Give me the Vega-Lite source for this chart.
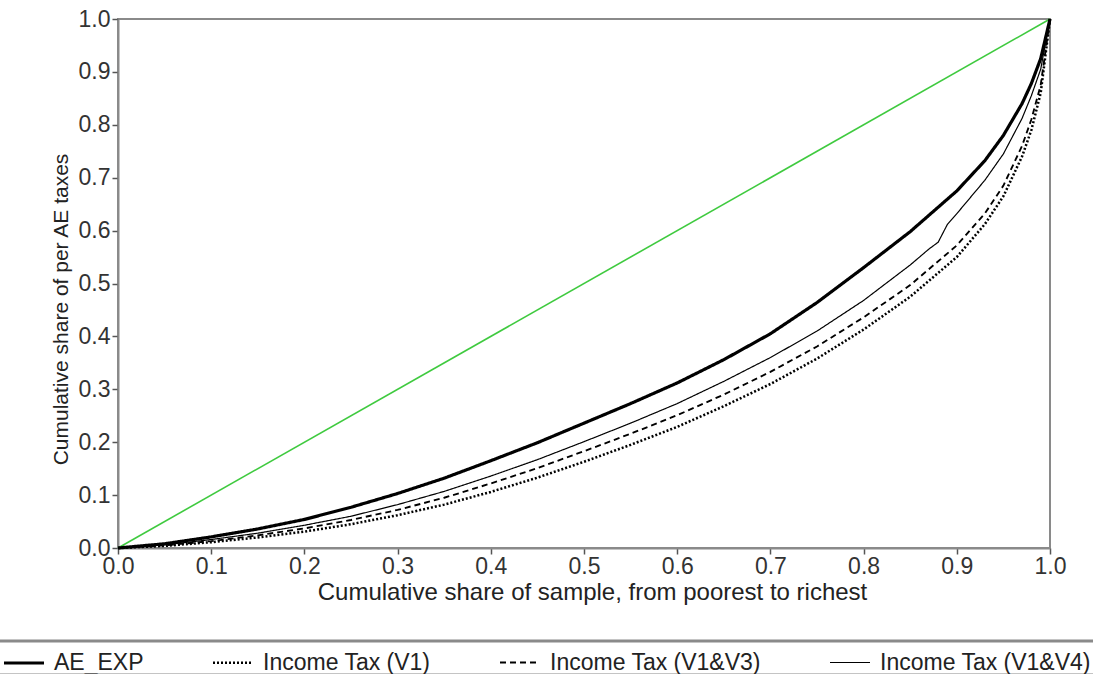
{
  "$schema": "https://vega.github.io/schema/vega-lite/v6.json",
  "autosize": {"type": "none"},
  "padding": {"left": 118, "top": 19, "right": 43, "bottom": 126},
  "width": 932,
  "height": 529,
  "background": "white",
  "config": {
    "view": {"stroke": "#8a8a8a", "strokeWidth": 2},
    "font": "Liberation Sans",
    "legend": {"strokeWidth": 3},
    "axis": {
      "grid": false,
      "domainColor": "#8a8a8a",
      "domainWidth": 2,
      "tickColor": "#555555",
      "tickWidth": 1.5,
      "tickSize": 6,
      "labelFont": "Liberation Sans",
      "labelFontSize": 23,
      "labelColor": "#333333",
      "titleFont": "Liberation Sans",
      "titleFontWeight": "normal",
      "titleColor": "#222222"
    }
  },
  "datasets": {
    "eq": [{"x": 0, "y": 0}, {"x": 1, "y": 1}],
    "curves": [
      {"series": "AE_EXP", "x": 0, "y": 0},
      {"series": "AE_EXP", "x": 0.05, "y": 0.008},
      {"series": "AE_EXP", "x": 0.1, "y": 0.021},
      {"series": "AE_EXP", "x": 0.15, "y": 0.036},
      {"series": "AE_EXP", "x": 0.2, "y": 0.054},
      {"series": "AE_EXP", "x": 0.25, "y": 0.077},
      {"series": "AE_EXP", "x": 0.3, "y": 0.103},
      {"series": "AE_EXP", "x": 0.35, "y": 0.132},
      {"series": "AE_EXP", "x": 0.4, "y": 0.165},
      {"series": "AE_EXP", "x": 0.45, "y": 0.199},
      {"series": "AE_EXP", "x": 0.5, "y": 0.236},
      {"series": "AE_EXP", "x": 0.55, "y": 0.273},
      {"series": "AE_EXP", "x": 0.6, "y": 0.312},
      {"series": "AE_EXP", "x": 0.65, "y": 0.356},
      {"series": "AE_EXP", "x": 0.7, "y": 0.405},
      {"series": "AE_EXP", "x": 0.75, "y": 0.464},
      {"series": "AE_EXP", "x": 0.8, "y": 0.53},
      {"series": "AE_EXP", "x": 0.85, "y": 0.598},
      {"series": "AE_EXP", "x": 0.9, "y": 0.675},
      {"series": "AE_EXP", "x": 0.93, "y": 0.732},
      {"series": "AE_EXP", "x": 0.95, "y": 0.78},
      {"series": "AE_EXP", "x": 0.97, "y": 0.84},
      {"series": "AE_EXP", "x": 0.98, "y": 0.878},
      {"series": "AE_EXP", "x": 0.99, "y": 0.925},
      {"series": "AE_EXP", "x": 1, "y": 1},
      {"series": "Income Tax (V1)", "x": 0, "y": 0},
      {"series": "Income Tax (V1)", "x": 0.05, "y": 0.004},
      {"series": "Income Tax (V1)", "x": 0.1, "y": 0.011},
      {"series": "Income Tax (V1)", "x": 0.15, "y": 0.02},
      {"series": "Income Tax (V1)", "x": 0.2, "y": 0.031},
      {"series": "Income Tax (V1)", "x": 0.25, "y": 0.045},
      {"series": "Income Tax (V1)", "x": 0.3, "y": 0.062},
      {"series": "Income Tax (V1)", "x": 0.35, "y": 0.082},
      {"series": "Income Tax (V1)", "x": 0.4, "y": 0.106},
      {"series": "Income Tax (V1)", "x": 0.45, "y": 0.133},
      {"series": "Income Tax (V1)", "x": 0.5, "y": 0.163},
      {"series": "Income Tax (V1)", "x": 0.55, "y": 0.195},
      {"series": "Income Tax (V1)", "x": 0.6, "y": 0.229},
      {"series": "Income Tax (V1)", "x": 0.65, "y": 0.268},
      {"series": "Income Tax (V1)", "x": 0.7, "y": 0.31},
      {"series": "Income Tax (V1)", "x": 0.75, "y": 0.358},
      {"series": "Income Tax (V1)", "x": 0.8, "y": 0.413},
      {"series": "Income Tax (V1)", "x": 0.85, "y": 0.475},
      {"series": "Income Tax (V1)", "x": 0.9, "y": 0.55},
      {"series": "Income Tax (V1)", "x": 0.93, "y": 0.612},
      {"series": "Income Tax (V1)", "x": 0.95, "y": 0.665},
      {"series": "Income Tax (V1)", "x": 0.97, "y": 0.74},
      {"series": "Income Tax (V1)", "x": 0.98, "y": 0.79},
      {"series": "Income Tax (V1)", "x": 0.99, "y": 0.86},
      {"series": "Income Tax (V1)", "x": 1, "y": 1},
      {"series": "Income Tax (V1&V3)", "x": 0, "y": 0},
      {"series": "Income Tax (V1&V3)", "x": 0.05, "y": 0.005},
      {"series": "Income Tax (V1&V3)", "x": 0.1, "y": 0.013},
      {"series": "Income Tax (V1&V3)", "x": 0.15, "y": 0.024},
      {"series": "Income Tax (V1&V3)", "x": 0.2, "y": 0.037},
      {"series": "Income Tax (V1&V3)", "x": 0.25, "y": 0.053},
      {"series": "Income Tax (V1&V3)", "x": 0.3, "y": 0.072},
      {"series": "Income Tax (V1&V3)", "x": 0.35, "y": 0.095},
      {"series": "Income Tax (V1&V3)", "x": 0.4, "y": 0.122},
      {"series": "Income Tax (V1&V3)", "x": 0.45, "y": 0.151},
      {"series": "Income Tax (V1&V3)", "x": 0.5, "y": 0.183},
      {"series": "Income Tax (V1&V3)", "x": 0.55, "y": 0.216},
      {"series": "Income Tax (V1&V3)", "x": 0.6, "y": 0.251},
      {"series": "Income Tax (V1&V3)", "x": 0.65, "y": 0.29},
      {"series": "Income Tax (V1&V3)", "x": 0.7, "y": 0.333},
      {"series": "Income Tax (V1&V3)", "x": 0.75, "y": 0.381},
      {"series": "Income Tax (V1&V3)", "x": 0.8, "y": 0.436},
      {"series": "Income Tax (V1&V3)", "x": 0.85, "y": 0.497},
      {"series": "Income Tax (V1&V3)", "x": 0.9, "y": 0.572},
      {"series": "Income Tax (V1&V3)", "x": 0.93, "y": 0.632},
      {"series": "Income Tax (V1&V3)", "x": 0.95, "y": 0.685},
      {"series": "Income Tax (V1&V3)", "x": 0.97, "y": 0.76},
      {"series": "Income Tax (V1&V3)", "x": 0.98, "y": 0.81},
      {"series": "Income Tax (V1&V3)", "x": 0.99, "y": 0.875},
      {"series": "Income Tax (V1&V3)", "x": 1, "y": 1},
      {"series": "Income Tax (V1&V4)", "x": 0, "y": 0},
      {"series": "Income Tax (V1&V4)", "x": 0.05, "y": 0.006},
      {"series": "Income Tax (V1&V4)", "x": 0.1, "y": 0.016},
      {"series": "Income Tax (V1&V4)", "x": 0.15, "y": 0.028},
      {"series": "Income Tax (V1&V4)", "x": 0.2, "y": 0.043},
      {"series": "Income Tax (V1&V4)", "x": 0.25, "y": 0.06},
      {"series": "Income Tax (V1&V4)", "x": 0.3, "y": 0.082},
      {"series": "Income Tax (V1&V4)", "x": 0.35, "y": 0.107},
      {"series": "Income Tax (V1&V4)", "x": 0.4, "y": 0.136},
      {"series": "Income Tax (V1&V4)", "x": 0.45, "y": 0.167},
      {"series": "Income Tax (V1&V4)", "x": 0.5, "y": 0.201},
      {"series": "Income Tax (V1&V4)", "x": 0.55, "y": 0.236},
      {"series": "Income Tax (V1&V4)", "x": 0.6, "y": 0.273},
      {"series": "Income Tax (V1&V4)", "x": 0.65, "y": 0.315},
      {"series": "Income Tax (V1&V4)", "x": 0.7, "y": 0.36},
      {"series": "Income Tax (V1&V4)", "x": 0.75, "y": 0.41},
      {"series": "Income Tax (V1&V4)", "x": 0.8, "y": 0.468},
      {"series": "Income Tax (V1&V4)", "x": 0.85, "y": 0.535},
      {"series": "Income Tax (V1&V4)", "x": 0.87, "y": 0.565},
      {"series": "Income Tax (V1&V4)", "x": 0.88, "y": 0.578},
      {"series": "Income Tax (V1&V4)", "x": 0.89, "y": 0.612},
      {"series": "Income Tax (V1&V4)", "x": 0.9, "y": 0.632},
      {"series": "Income Tax (V1&V4)", "x": 0.93, "y": 0.695},
      {"series": "Income Tax (V1&V4)", "x": 0.95, "y": 0.745},
      {"series": "Income Tax (V1&V4)", "x": 0.97, "y": 0.812},
      {"series": "Income Tax (V1&V4)", "x": 0.98, "y": 0.855},
      {"series": "Income Tax (V1&V4)", "x": 0.99, "y": 0.905},
      {"series": "Income Tax (V1&V4)", "x": 1, "y": 1}
    ]
  },
  "layer": [
    {
      "data": {"name": "eq"},
      "mark": {"type": "line", "color": "#3fca3f", "strokeWidth": 1.6},
      "encoding": {
        "x": {
          "field": "x", "type": "quantitative",
          "scale": {"domain": [0, 1], "nice": false, "zero": false},
          "axis": {"values": [0, 0.1, 0.2, 0.3, 0.4, 0.5, 0.6, 0.7, 0.8, 0.9, 1], "format": ".1f", "labelPadding": 1, "titlePadding": 2,
                   "titleFontSize": 24, "titleX": 474,
                   "title": "Cumulative share of sample, from poorest to richest", "labelFlush": false}
        },
        "y": {
          "field": "y", "type": "quantitative",
          "scale": {"domain": [0, 1], "nice": false, "zero": false},
          "axis": {"values": [0, 0.1, 0.2, 0.3, 0.4, 0.5, 0.6, 0.7, 0.8, 0.9, 1], "format": ".1f", "labelPadding": 2, "titlePadding": 7,
                   "titleFontSize": 21, "titleY": 290,
                   "title": "Cumulative share of per AE taxes", "labelFlush": false}
        }
      }
    },
    {
      "data": {"name": "curves"},
      "mark": {"type": "line", "color": "black", "strokeCap": "butt"},
      "encoding": {
        "x": {"field": "x", "type": "quantitative"},
        "y": {"field": "y", "type": "quantitative"},
        "detail": {"field": "series"},
        "strokeDash": {
          "field": "series", "type": "nominal",
          "scale": {
            "domain": ["AE_EXP", "Income Tax (V1)", "Income Tax (V1&V3)", "Income Tax (V1&V4)"],
            "range": [[1, 0], [2, 2], [6, 4], [1, 0]]
          },
          "legend": {
            "title": "\u00a0",
            "titleOrient": "right",
            "titlePadding": 45,
            "titleFontSize": 10,
            "orient": "none",
            "legendX": -128,
            "legendY": 622,
            "direction": "horizontal",
            "columns": 4,
            "padding": 0,
            "symbolOffset": 12,
            "strokeColor": "#8a8a8a",
            "symbolType": "stroke",
            "symbolSize": 1600,
            "symbolStrokeColor": "black",
            "labelFont": "Liberation Sans",
            "labelFontSize": 23,
            "labelColor": "#222222",
            "labelOffset": 8,
            "labelLimit": 400,
            "columnPadding": 55
          }
        },
        "strokeWidth": {
          "field": "series", "type": "nominal",
          "scale": {
            "domain": ["AE_EXP", "Income Tax (V1)", "Income Tax (V1&V3)", "Income Tax (V1&V4)"],
            "range": [3.2, 1.2, 1.2, 1.2]
          }
        }
      }
    }
  ]
}
